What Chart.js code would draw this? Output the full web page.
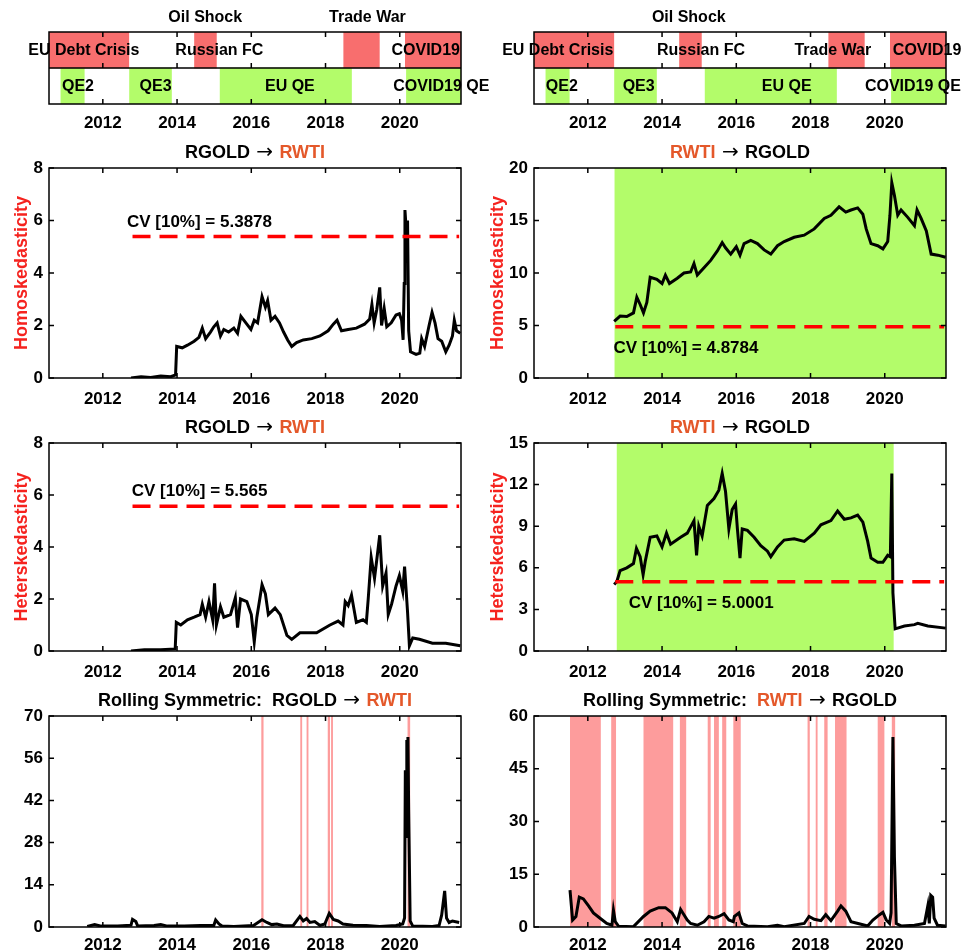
<!DOCTYPE html>
<html lang="en">
<head>
<meta charset="UTF-8">
<title>RGOLD / RWTI causality tests</title>
<style>
    body {
        margin: 0;
        background: #fff;
        width: 965px;
        height: 952px;
        position: relative;
        overflow: hidden;
    }
    canvas {
        position: absolute;
    }
</style>
</head>
<body>

<canvas id="stripL" width="495" height="135" style="left:0;top:0"></canvas>
<canvas id="stripR" width="480" height="135" style="left:485px;top:0"></canvas>
<canvas id="homoL" width="480" height="277" style="left:0;top:133px"></canvas>
<canvas id="homoR" width="480" height="277" style="left:485px;top:133px"></canvas>
<canvas id="hetL" width="480" height="272" style="left:0;top:408px"></canvas>
<canvas id="hetR" width="480" height="272" style="left:485px;top:408px"></canvas>
<canvas id="rollL" width="480" height="271" style="left:0;top:681px"></canvas>
<canvas id="rollR" width="480" height="271" style="left:485px;top:681px"></canvas>

<script src="https://cdn.jsdelivr.net/npm/chart.js"></script>
<script>
// ---- data ----
const xTicks = [2012, 2014, 2016, 2018, 2020];
const xMin = 2010.55, xMax = 2021.65;

// event timeline (years)
const crisisSpans = [[2010.55, 2012.7], [2014.47, 2015.06], [2018.49, 2019.45], [2020.15, 2021.65]];
const qeSpans = [[2010.87, 2011.5], [2012.72, 2013.85], [2015.16, 2018.7], [2020.18, 2021.65]];

// [text, year, row]
const stripLabelsL = [
    ['Oil Shock', 2014.76, 'above'], ['Trade War', 2019.13, 'above'],
    ['EU Debt Crisis', 2011.49, 'crisis'], ['Russian FC', 2015.14, 'crisis'], ['COVID19', 2020.70, 'crisis'],
    ['QE2', 2011.33, 'qe'], ['QE3', 2013.42, 'qe'], ['EU QE', 2017.04, 'qe'], ['COVID19 QE', 2021.12, 'qe']
];
const stripLabelsR = [
    ['Oil Shock', 2014.72, 'above'],
    ['EU Debt Crisis', 2011.19, 'crisis'], ['Russian FC', 2015.05, 'crisis'], ['Trade War', 2018.6, 'crisis'], ['COVID19', 2021.14, 'crisis'],
    ['QE2', 2011.3, 'qe'], ['QE3', 2013.37, 'qe'], ['EU QE', 2017.36, 'qe'], ['COVID19 QE', 2020.76, 'qe']
];

// Homoskedasticity RGOLD -> RWTI
const homoGoldWti = [
    [2012.76, 0.0], [2013.03, 0.05], [2013.29, 0.02], [2013.56, 0.08], [2013.83, 0.05], [2013.96, 0.12],
    [2013.99, 1.2], [2014.14, 1.15], [2014.28, 1.25], [2014.46, 1.4], [2014.59, 1.55], [2014.68, 1.9],
    [2014.77, 1.5], [2014.9, 1.75], [2014.99, 1.95], [2015.08, 2.1], [2015.17, 1.6], [2015.26, 1.85],
    [2015.39, 1.75], [2015.53, 1.9], [2015.63, 1.7], [2015.72, 2.35], [2015.88, 2.05], [2015.99, 1.85],
    [2016.08, 2.2], [2016.17, 2.1], [2016.29, 3.1], [2016.38, 2.7], [2016.44, 2.95], [2016.53, 2.2],
    [2016.64, 2.35], [2016.76, 2.1], [2016.87, 1.75], [2016.98, 1.45], [2017.09, 1.2], [2017.22, 1.35],
    [2017.4, 1.45], [2017.63, 1.5], [2017.85, 1.6], [2018.07, 1.8], [2018.21, 2.05], [2018.31, 2.2],
    [2018.43, 1.8], [2018.61, 1.85], [2018.83, 1.9], [2019.05, 2.05], [2019.19, 2.25], [2019.25, 2.8],
    [2019.31, 2.1], [2019.38, 2.6], [2019.46, 3.45], [2019.51, 2.0], [2019.58, 2.65], [2019.65, 1.95],
    [2019.77, 2.1], [2019.9, 2.4], [2019.99, 2.45], [2020.05, 2.2], [2020.09, 1.45], [2020.12, 3.6],
    [2020.14, 6.4], [2020.19, 5.3], [2020.21, 6.0], [2020.24, 1.8], [2020.29, 1.0], [2020.44, 0.9],
    [2020.54, 0.95], [2020.59, 1.5], [2020.67, 1.2], [2020.79, 2.0], [2020.87, 2.5], [2020.95, 2.1],
    [2021.03, 1.5], [2021.13, 1.4], [2021.24, 1.0], [2021.33, 1.25], [2021.42, 1.6], [2021.47, 2.2],
    [2021.53, 1.8], [2021.63, 1.7]
];
// Homoskedasticity RWTI -> RGOLD
const homoWtiGold = [
    [2012.71, 5.4], [2012.87, 5.9], [2013.05, 5.85], [2013.23, 6.2], [2013.32, 7.7], [2013.41, 7.0],
    [2013.5, 6.2], [2013.59, 7.2], [2013.68, 9.6], [2013.86, 9.4], [2014.0, 9.0], [2014.09, 9.8],
    [2014.2, 9.0], [2014.41, 9.5], [2014.59, 10.0], [2014.77, 10.1], [2014.86, 10.9], [2014.95, 9.8],
    [2015.13, 10.5], [2015.31, 11.2], [2015.49, 12.1], [2015.62, 12.9], [2015.71, 12.4], [2015.85, 11.8],
    [2016.0, 12.5], [2016.1, 11.7], [2016.21, 12.8], [2016.39, 13.1], [2016.57, 12.8], [2016.75, 12.2],
    [2016.93, 11.8], [2017.11, 12.6], [2017.29, 13.0], [2017.56, 13.4], [2017.83, 13.6], [2018.1, 14.2],
    [2018.37, 15.2], [2018.55, 15.5], [2018.77, 16.3], [2018.95, 15.8], [2019.09, 16.0], [2019.27, 16.2],
    [2019.41, 15.6], [2019.5, 14.2], [2019.63, 12.8], [2019.81, 12.6], [2019.95, 12.3], [2020.08, 13.0],
    [2020.14, 15.5], [2020.19, 18.6], [2020.26, 17.4], [2020.35, 15.5], [2020.44, 16.0], [2020.62, 15.3],
    [2020.8, 14.5], [2020.87, 16.0], [2020.98, 15.2], [2021.12, 14.0], [2021.25, 11.8], [2021.43, 11.7],
    [2021.64, 11.5]
];
// Heteroskedasticity RGOLD -> RWTI
const hetGoldWti = [
    [2012.76, 0.0], [2013.12, 0.05], [2013.56, 0.05], [2013.95, 0.08], [2013.98, 1.1], [2014.1, 1.0],
    [2014.28, 1.2], [2014.46, 1.3], [2014.62, 1.4], [2014.68, 1.8], [2014.77, 1.3], [2014.86, 1.9],
    [2014.96, 1.2], [2015.01, 2.6], [2015.06, 1.0], [2015.17, 1.7], [2015.26, 1.3], [2015.44, 1.4],
    [2015.57, 2.05], [2015.63, 0.9], [2015.71, 2.0], [2015.88, 1.9], [2016.0, 1.4], [2016.08, 0.35],
    [2016.15, 1.3], [2016.29, 2.55], [2016.38, 2.2], [2016.46, 1.4], [2016.64, 1.65], [2016.78, 1.4],
    [2016.96, 0.6], [2017.09, 0.45], [2017.31, 0.7], [2017.76, 0.7], [2018.12, 1.0], [2018.34, 1.15],
    [2018.47, 1.0], [2018.53, 1.9], [2018.61, 1.75], [2018.7, 2.15], [2018.83, 1.1], [2019.01, 1.2],
    [2019.1, 1.1], [2019.15, 2.0], [2019.23, 3.6], [2019.32, 2.8], [2019.38, 3.5], [2019.46, 4.45],
    [2019.54, 2.5], [2019.63, 3.0], [2019.69, 1.4], [2019.78, 1.8], [2019.9, 2.5], [2019.99, 2.9],
    [2020.08, 2.3], [2020.13, 3.25], [2020.21, 1.5], [2020.26, 0.2], [2020.35, 0.5], [2020.53, 0.45],
    [2020.88, 0.3], [2021.24, 0.3], [2021.63, 0.2]
];
// Heteroskedasticity RWTI -> RGOLD
const hetWtiGold = [
    [2012.71, 4.8], [2012.78, 5.0], [2012.87, 5.8], [2013.05, 6.0], [2013.23, 6.3], [2013.31, 7.4],
    [2013.41, 6.8], [2013.49, 5.5], [2013.55, 6.5], [2013.68, 8.2], [2013.86, 8.3], [2014.0, 7.5],
    [2014.12, 8.5], [2014.23, 7.7], [2014.5, 8.2], [2014.68, 8.5], [2014.86, 9.4], [2014.93, 6.9],
    [2014.99, 9.0], [2015.08, 8.3], [2015.22, 10.5], [2015.4, 11.0], [2015.53, 11.6], [2015.62, 12.8],
    [2015.71, 11.5], [2015.8, 8.8], [2015.89, 10.2], [2015.98, 10.6], [2016.03, 8.8], [2016.1, 6.7],
    [2016.16, 8.8], [2016.3, 8.7], [2016.48, 8.2], [2016.66, 7.6], [2016.84, 7.2], [2016.93, 6.8],
    [2017.11, 7.5], [2017.29, 8.0], [2017.56, 8.1], [2017.83, 7.9], [2018.1, 8.5], [2018.28, 9.1],
    [2018.55, 9.4], [2018.73, 10.1], [2018.91, 9.5], [2019.09, 9.6], [2019.27, 9.8], [2019.41, 9.3],
    [2019.54, 7.9], [2019.63, 6.7], [2019.81, 6.4], [2019.95, 6.4], [2020.08, 6.9], [2020.15, 6.8],
    [2020.19, 12.8], [2020.22, 4.2], [2020.28, 1.6], [2020.53, 1.8], [2020.8, 1.9], [2020.89, 2.0],
    [2021.16, 1.8], [2021.64, 1.65]
];
// Rolling symmetric RGOLD -> RWTI
const rollGoldWti = [
    [2011.58, 0.2], [2011.78, 0.8], [2011.96, 0.3], [2012.4, 0.3], [2012.76, 0.6], [2012.8, 2.5],
    [2012.89, 1.8], [2012.94, 0.3], [2013.38, 0.5], [2013.56, 0.8], [2013.74, 0.3], [2014.19, 0.3],
    [2014.63, 0.5], [2014.99, 0.5], [2015.04, 2.3], [2015.13, 1.0], [2015.21, 0.3], [2015.53, 0.2],
    [2016.06, 0.5], [2016.29, 2.4], [2016.42, 1.5], [2016.55, 0.8], [2016.69, 1.0], [2016.87, 0.4],
    [2017.13, 0.5], [2017.31, 3.5], [2017.4, 2.0], [2017.49, 2.8], [2017.58, 1.5], [2017.71, 1.8],
    [2017.85, 0.5], [2017.98, 1.0], [2018.1, 4.5], [2018.21, 2.5], [2018.34, 2.0], [2018.47, 1.0],
    [2018.74, 0.6], [2019.1, 0.5], [2019.46, 0.2], [2019.9, 0.5], [2020.08, 1.0], [2020.13, 3.0],
    [2020.15, 52], [2020.17, 30], [2020.19, 62], [2020.21, 45], [2020.22, 63], [2020.24, 39],
    [2020.28, 2.0], [2020.35, 0.3], [2020.88, 0.2], [2021.06, 0.5], [2021.13, 4.0], [2021.21, 12.0],
    [2021.26, 3.0], [2021.33, 1.5], [2021.42, 2.0], [2021.6, 1.5]
];
// Rolling symmetric RWTI -> RGOLD
const rollWtiGold = [
    [2011.52, 10.5], [2011.59, 2.0], [2011.68, 3.0], [2011.77, 8.5], [2011.88, 8.0], [2012.02, 6.0],
    [2012.15, 4.0], [2012.33, 2.5], [2012.51, 1.0], [2012.65, 0.5], [2012.69, 4.8], [2012.74, 1.5],
    [2012.83, 0.2], [2013.23, 0.1], [2013.5, 3.0], [2013.68, 4.5], [2013.91, 5.5], [2014.09, 5.5],
    [2014.27, 4.0], [2014.41, 1.5], [2014.5, 5.0], [2014.59, 3.5], [2014.68, 2.0], [2014.77, 1.0],
    [2014.95, 0.5], [2015.13, 1.5], [2015.26, 3.0], [2015.4, 2.5], [2015.53, 3.0], [2015.67, 3.8],
    [2015.8, 2.0], [2015.92, 1.5], [2015.95, 3.0], [2016.07, 4.0], [2016.16, 1.0], [2016.3, 0.3],
    [2016.84, 0.1], [2017.11, 0.5], [2017.29, 0.1], [2017.83, 1.0], [2017.96, 3.0], [2018.1, 2.2],
    [2018.28, 1.8], [2018.41, 3.5], [2018.55, 1.8], [2018.73, 4.5], [2018.82, 6.0], [2018.95, 4.5],
    [2019.09, 1.5], [2019.36, 0.8], [2019.54, 0.3], [2019.68, 2.0], [2019.86, 3.5], [2019.95, 4.2],
    [2020.04, 2.0], [2020.13, 1.0], [2020.17, 4.0], [2020.22, 54], [2020.26, 20], [2020.31, 1.0],
    [2020.44, 0.3], [2020.8, 0.5], [2021.07, 1.0], [2021.16, 6.0], [2021.2, 1.0], [2021.24, 9.0],
    [2021.29, 8.5], [2021.33, 2.5], [2021.42, 0.5], [2021.64, 0.3]
];

// significant windows (shaded)
const rollBandsL = [[2016.27, 2016.33], [2017.32, 2017.37], [2017.49, 2017.54], [2018.06, 2018.12], [2018.15, 2018.2], [2020.21, 2020.28]];
const rollBandsR = [
    [2011.52, 2012.35], [2012.63, 2012.76], [2013.5, 2014.3], [2014.48, 2014.65], [2015.23, 2015.31],
    [2015.4, 2015.53], [2015.62, 2015.73], [2015.92, 2016.12], [2017.92, 2017.98], [2018.14, 2018.19],
    [2018.37, 2018.46], [2018.66, 2018.97], [2019.81, 2019.99], [2020.19, 2020.28]
];
const homoBandsR = [[2012.72, 2021.65]];
const hetBandsR = [[2012.78, 2020.24]];

// critical values (10%)
const cvHomoL = 5.3878, cvHomoR = 4.8784, cvHetL = 5.565, cvHetR = 5.0001;

// ---- styling ----
const FONT = '"Liberation Sans", Arial, Helvetica, sans-serif';
const ARROW_FONT = '20px "DejaVu Sans", sans-serif';
const ORANGE = '#e4582a';
const RED = '#f5231f';
const GREEN = '#b3fc6a';
const STRIP_RED = '#f86e6e';
const BAND_PINK = '#fd9c9c';

Chart.defaults.font.family = FONT;
Chart.defaults.font.weight = 'bold';
Chart.defaults.color = '#000';

function xScale(axisH, tickPad) {
    return {
        type: 'linear', min: xMin, max: xMax,
        grid: { display: false, drawTicks: false },
        border: { display: false },
        afterBuildTicks: s => { s.ticks = xTicks.map(v => ({ value: v })); },
        afterFit: s => { s.height = axisH; },
        ticks: { font: { size: 17, weight: 'bold' }, padding: tickPad, maxRotation: 0, autoSkip: false, callback: v => String(v) }
    };
}

function drawFrameTicks(ctx, chart) {
    const a = chart.chartArea;
    const x = chart.scales.x, y = chart.scales.y;
    ctx.save();
    ctx.strokeStyle = '#000';
    ctx.lineWidth = 1.5;
    ctx.strokeRect(a.left, a.top, a.right - a.left, a.bottom - a.top);
    ctx.beginPath();
    xTicks.forEach(v => {
        const px = x.getPixelForValue(v);
        ctx.moveTo(px, a.bottom); ctx.lineTo(px, a.bottom - 5);
        ctx.moveTo(px, a.top); ctx.lineTo(px, a.top + 5);
    });
    if (y && y.options.display !== false) {
        y.ticks.forEach(t => {
            const py = y.getPixelForValue(t.value);
            ctx.moveTo(a.left, py); ctx.lineTo(a.left + 5, py);
            ctx.moveTo(a.right, py); ctx.lineTo(a.right - 5, py);
        });
    }
    ctx.stroke();
    ctx.restore();
}

// panel title with coloured series names; [text, colour, font?]
function drawTitle(ctx, chart, parts) {
    const a = chart.chartArea;
    ctx.save();
    ctx.textBaseline = 'middle';
    const fontOf = p => p[2] || ('bold 18px ' + FONT);
    let total = 0;
    parts.forEach(p => { ctx.font = fontOf(p); total += ctx.measureText(p[0]).width; });
    let cx = (a.left + a.right) / 2 - total / 2;
    parts.forEach(p => {
        ctx.font = fontOf(p);
        ctx.fillStyle = p[1];
        ctx.fillText(p[0], cx, a.top - 15);
        cx += ctx.measureText(p[0]).width;
    });
    ctx.restore();
}

function makeStrip(id, labels, padRight) {
    new Chart(document.getElementById(id), {
        type: 'bar',
        data: {
            labels: ['crisis', 'qe'],
            datasets: [
                { data: crisisSpans.map(s => ({ x: s, y: 'crisis' })), backgroundColor: STRIP_RED },
                { data: qeSpans.map(s => ({ x: s, y: 'qe' })), backgroundColor: GREEN }
            ]
        },
        options: {
            indexAxis: 'y',
            responsive: false,
            animation: false,
            layout: { padding: { left: 49, right: padRight, top: 32, bottom: 0 } },
            datasets: { bar: { grouped: false, barPercentage: 1, categoryPercentage: 1, borderWidth: 0 } },
            plugins: { legend: { display: false }, tooltip: { enabled: false } },
            scales: { x: xScale(31, 9), y: { display: false } }
        },
        plugins: [{
            id: 'stripDecor',
            afterDraw(chart) {
                const { ctx, chartArea: a, scales: { x, y } } = chart;
                drawFrameTicks(ctx, chart);
                ctx.save();
                const mid = (a.top + a.bottom) / 2;
                ctx.strokeStyle = '#000';
                ctx.lineWidth = 1.5;
                ctx.beginPath();
                ctx.moveTo(a.left, mid); ctx.lineTo(a.right, mid);
                xTicks.forEach(v => {
                    const px = x.getPixelForValue(v);
                    ctx.moveTo(px, mid); ctx.lineTo(px, mid - 5);
                });
                ctx.stroke();
                ctx.font = 'bold 16px ' + FONT;
                ctx.fillStyle = '#000';
                ctx.textAlign = 'center';
                ctx.textBaseline = 'middle';
                labels.forEach(([text, yr, row]) => {
                    let py;
                    if (row === 'above') py = a.top - 14;
                    else py = y.getPixelForValue(row === 'crisis' ? 0 : 1) + 1;
                    ctx.fillText(text, x.getPixelForValue(yr), py);
                });
                ctx.restore();
            }
        }]
    });
}

function makePanel(id, p) {
    const datasets = [{
        data: p.series, borderColor: '#000', borderWidth: 3,
        pointRadius: 0, tension: 0, order: 1
    }];
    if (p.cv != null) {
        datasets.push({
            data: [[p.cvFrom, p.cv], [2021.6, p.cv]], borderColor: '#ff0000', borderWidth: 3.5,
            borderDash: [18, 9], pointRadius: 0, order: 0
        });
    }
    new Chart(document.getElementById(id), {
        type: 'line',
        data: { datasets },
        options: {
            responsive: false,
            animation: false,
            layout: { padding: { top: 35, right: 19, left: 0, bottom: 0 } },
            plugins: { legend: { display: false }, tooltip: { enabled: false } },
            scales: {
                x: xScale(p.axisH, p.tickPad),
                y: {
                    min: 0, max: p.yMax,
                    grid: { display: false, drawTicks: false },
                    border: { display: false },
                    ticks: { stepSize: p.yStep, font: { size: 17, weight: 'bold' }, padding: 6 },
                    title: p.yTitle
                        ? { display: true, text: p.yTitle, color: RED, font: { size: 18, weight: 'bold' }, padding: { top: p.yTitlePad, bottom: 0 } }
                        : { display: false },
                    afterFit: s => { s.width = 49; }
                }
            }
        },
        plugins: [{
            id: 'panelDecor',
            beforeDatasetsDraw(chart) {
                const { ctx, chartArea: a, scales: { x } } = chart;
                ctx.save();
                ctx.fillStyle = p.bandColor;
                (p.bands || []).forEach(b => {
                    const x0 = Math.max(a.left, x.getPixelForValue(b[0]));
                    const x1 = Math.min(a.right, x.getPixelForValue(b[1]));
                    ctx.fillRect(x0, a.top, x1 - x0, a.bottom - a.top);
                });
                ctx.restore();
            },
            afterDraw(chart) {
                const { ctx, scales: { x, y } } = chart;
                drawFrameTicks(ctx, chart);
                drawTitle(ctx, chart, p.title);
                if (p.cvText) {
                    ctx.save();
                    ctx.font = 'bold 17px ' + FONT;
                    ctx.fillStyle = '#000';
                    ctx.textBaseline = 'middle';
                    ctx.fillText(p.cvText, x.getPixelForValue(p.cvAt[0]), y.getPixelForValue(p.cvAt[1]));
                    ctx.restore();
                }
            }
        }]
    });
}

const ARROW = [' \u2192 ', '#000', ARROW_FONT];
const goldWti = [['RGOLD', '#000'], ARROW, ['RWTI', ORANGE]];
const wtiGold = [['RWTI', ORANGE], ARROW, ['RGOLD', '#000']];

makeStrip('stripL', stripLabelsL, 34);
makeStrip('stripR', stripLabelsR, 19);

makePanel('homoL', {
    series: homoGoldWti, yMax: 8, yStep: 2, yTitle: 'Homoskedasticity', yTitlePad: 11,
    axisH: 32, tickPad: 11, title: goldWti,
    cv: cvHomoL, cvFrom: 2012.8, cvText: 'CV [10%] = 5.3878', cvAt: [2012.65, 5.95]
});
makePanel('homoR', {
    series: homoWtiGold, yMax: 20, yStep: 5, yTitle: 'Homoskedasticity', yTitlePad: 2,
    axisH: 32, tickPad: 11, title: wtiGold, bands: homoBandsR, bandColor: GREEN,
    cv: cvHomoR, cvFrom: 2012.74, cvText: 'CV [10%] = 4.8784', cvAt: [2012.69, 2.85]
});
makePanel('hetL', {
    series: hetGoldWti, yMax: 8, yStep: 2, yTitle: 'Heterskedasticity', yTitlePad: 11,
    axisH: 29, tickPad: 11, title: goldWti,
    cv: cvHetL, cvFrom: 2012.8, cvText: 'CV [10%] = 5.565', cvAt: [2012.78, 6.13]
});
makePanel('hetR', {
    series: hetWtiGold, yMax: 15, yStep: 3, yTitle: 'Heterskedasticity', yTitlePad: 2,
    axisH: 29, tickPad: 11, title: wtiGold, bands: hetBandsR, bandColor: GREEN,
    cv: cvHetR, cvFrom: 2012.74, cvText: 'CV [10%] = 5.0001', cvAt: [2013.1, 3.42]
});
makePanel('rollL', {
    series: rollGoldWti, yMax: 70, yStep: 14, axisH: 25, tickPad: 8,
    title: [['Rolling Symmetric:  RGOLD', '#000'], ARROW, ['RWTI', ORANGE]],
    bands: rollBandsL, bandColor: BAND_PINK
});
makePanel('rollR', {
    series: rollWtiGold, yMax: 60, yStep: 15, axisH: 25, tickPad: 8,
    title: [['Rolling Symmetric:  ', '#000'], ['RWTI', ORANGE], ARROW, ['RGOLD', '#000']],
    bands: rollBandsR, bandColor: BAND_PINK
});
</script>
</body>
</html>
